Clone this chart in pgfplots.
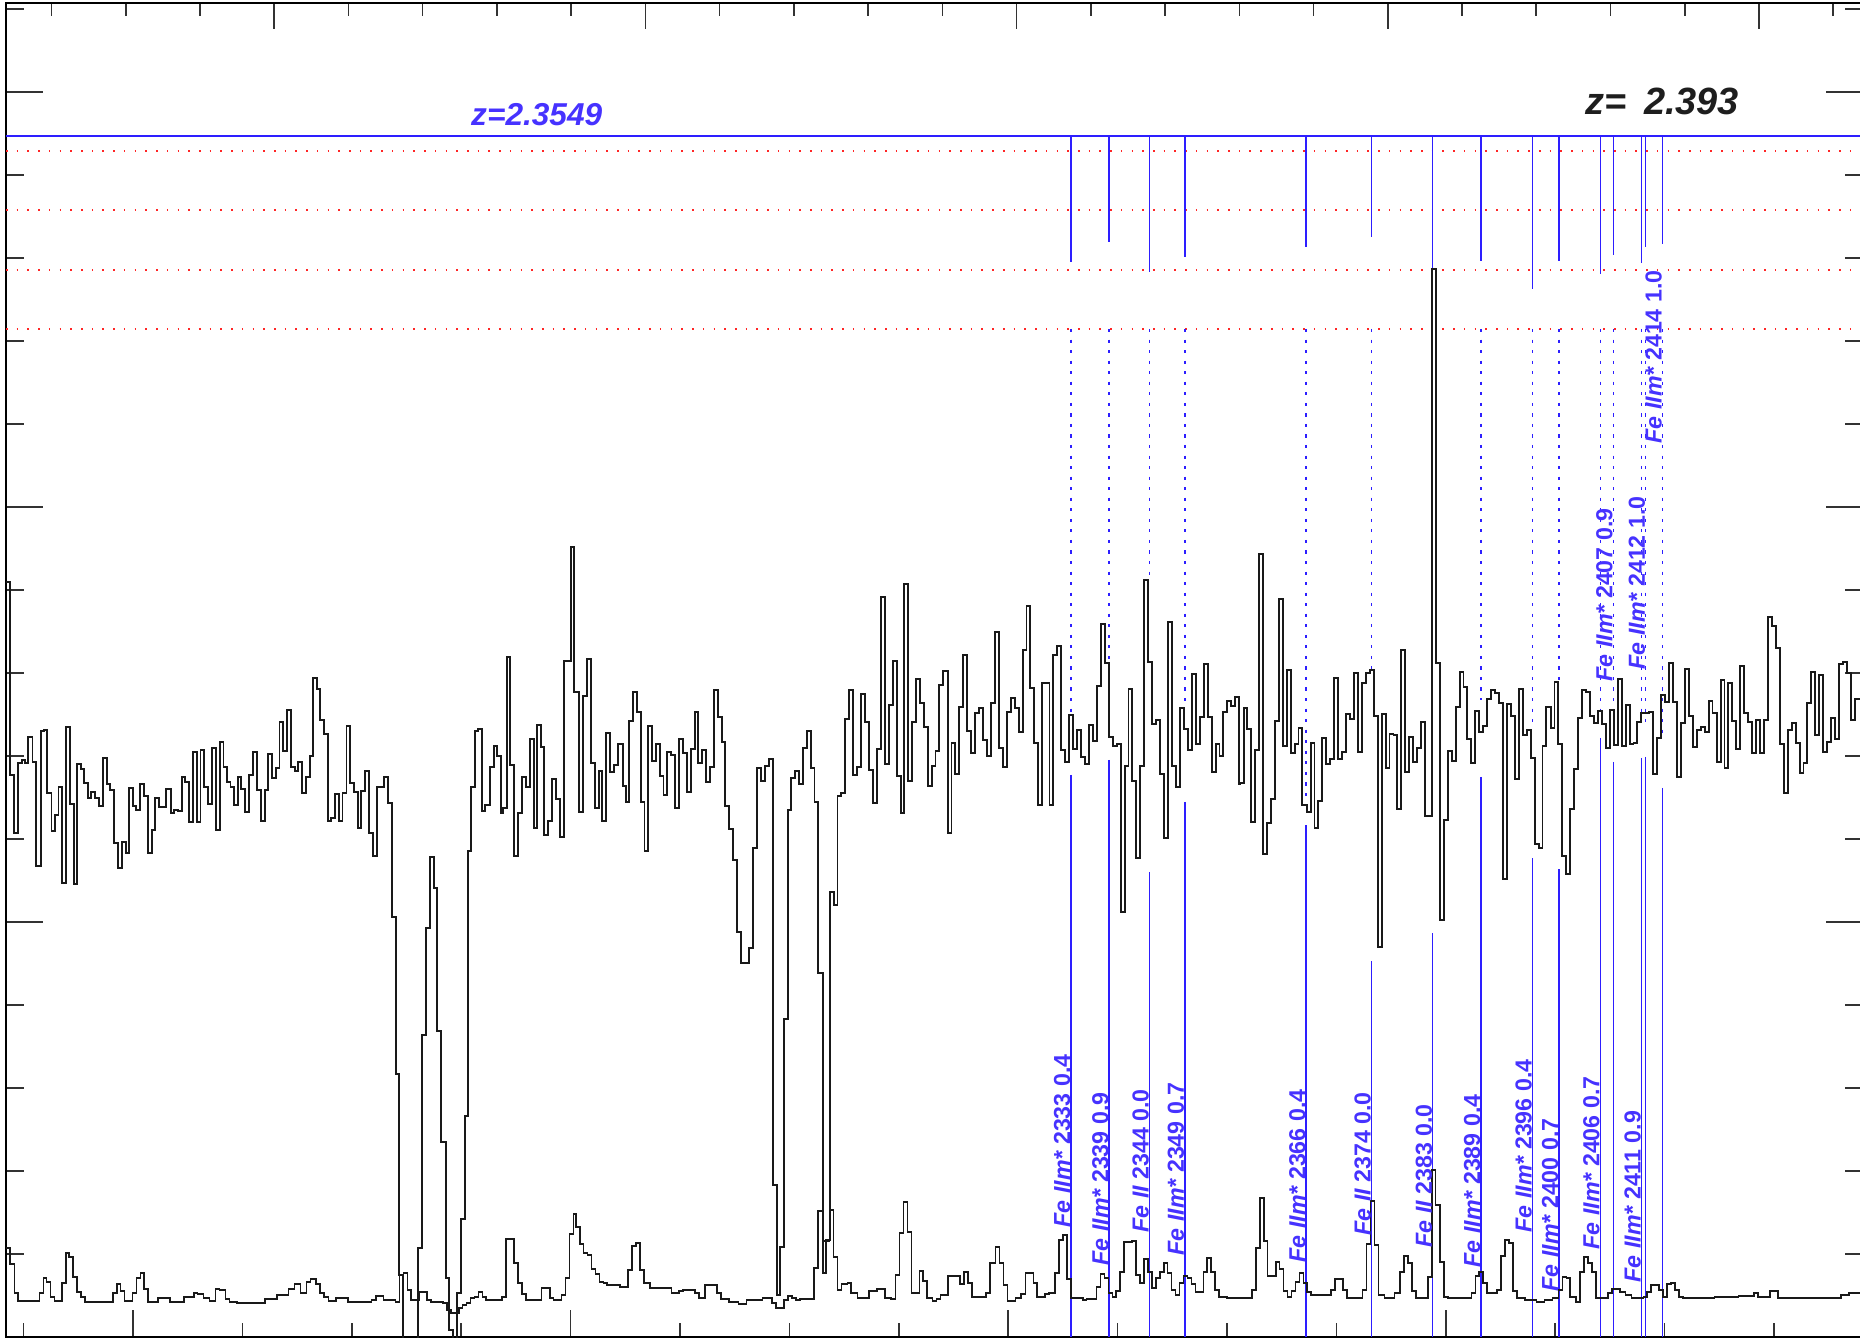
\documentclass[border=0pt]{standalone}
\usepackage{fontspec}
\setmainfont{Liberation Sans}
\usepackage{pgfplots}
\pgfplotsset{compat=1.18}
\definecolor{lineblue}{RGB}{45,30,255}
\definecolor{labelblue}{RGB}{70,50,255}
\definecolor{zblack}{RGB}{30,30,30}

\pgfplotsset{
  specframe/.style={
    scale only axis, width=18.57cm, height=13.34cm,
    at={(0.06cm,0.02cm)}, anchor=south west,
    axis line style={black, line width=0.5pt},
    tick style={black!80, line width=0.45pt},
    tick align=inside,
    ymin=0, ymax=1334,
    xticklabels={}, yticklabels={},
  },
}
\tikzset{
  idlabel/.style={rotate=90, anchor=base west, inner sep=0pt,
    text=labelblue, font=\fontsize{6.6}{8}\selectfont\bfseries},
}
% species in bold italic, wavelength and value in bold upright
\newcommand{\ion}[1]{{\itshape #1}}

\begin{document}
\begin{tikzpicture}

% upper axis: rest-frame wavelength of the z = 2.393 system
\begin{axis}[specframe,
  xmin=2163.87, xmax=2414.02,
  xtick={2200,2250,2300,2350,2400},
  minor xtick={2170,2180,2190,2210,2220,2230,2240,2260,2270,2280,2290,
               2310,2320,2330,2340,2360,2370,2380,2390,2410},
  xtick pos=right, ytick=\empty,
  major tick length=0.26cm, minor tick length=0.13cm]
\end{axis}

% left / right flux ticks
\begin{axis}[specframe,
  xmin=7342, xmax=8190.7, xtick=\empty,
  ytick={0,415,830,1245},
  minor ytick={83,166,249,332,498,581,664,747,913,996,1079,1162,1328},
  major tick length=0.37cm, minor tick length=0.18cm]
\end{axis}

% observed wavelength (Angstrom) against flux (counts)
\begin{axis}[specframe,
  xmin=7342, xmax=8190.7,
  xtick={7400,7600,7800,8000},
  minor xtick={7350,7450,7500,7550,7650,7700,7750,7850,7900,7950,8050,8100,8150},
  xtick pos=left, ytick=\empty,
  major tick length=0.27cm, minor tick length=0.14cm]

% reference levels
\addplot[lineblue, line width=0.45pt] coordinates {(7342,1201) (8190.7,1201)};
\addplot[red!85, line width=0.5pt, dash pattern=on 0.45pt off 2.6pt]
  coordinates {(7342,1186) (8190.7,1186)};
\addplot[red!85, line width=0.5pt, dash pattern=on 0.45pt off 2.6pt]
  coordinates {(7342,1127) (8190.7,1127)};
\addplot[red!85, line width=0.5pt, dash pattern=on 0.45pt off 2.6pt]
  coordinates {(7342,1067) (8190.7,1067)};
\addplot[red!85, line width=0.5pt, dash pattern=on 0.45pt off 2.6pt]
  coordinates {(7342,1008) (8190.7,1008)};

% Fe II line markers at z = 2.3549: hanging ticks
\addplot[lineblue, line width=0.42pt, unbounded coords=jump] coordinates {
 (7828.73,1201) (7828.73,1075) (7828.73,nan)
 (7846.20,1201) (7846.20,1095) (7846.20,nan)
 (7864.59,1201) (7864.59,1065) (7864.59,nan)
 (7880.73,1201) (7880.73,1080) (7880.73,nan)
 (7936.18,1201) (7936.18,1090) (7936.18,nan)
 (7966.08,1201) (7966.08,1100) (7966.08,nan)
 (7993.96,1201) (7993.96,1068) (7993.96,nan)
 (8016.06,1201) (8016.06,1076) (8016.06,nan)
 (8039.55,1201) (8039.55,1048) (8039.55,nan)
 (8051.69,1201) (8051.69,1076) (8051.69,nan)
 (8070.61,1201) (8070.61,1063) (8070.61,nan)
 (8076.55,1201) (8076.55,1082) (8076.55,nan)
 (8089.50,1201) (8089.50,1074) (8089.50,nan)
 (8091.35,1201) (8091.35,1090) (8091.35,nan)
 (8098.96,1201) (8098.96,1093)
};
% dotted guides above the spectrum
\addplot[lineblue, line width=0.42pt, dash pattern=on 0.9pt off 2.1pt, unbounded coords=jump] coordinates {
 (7828.73,1008) (7828.73,624) (7828.73,nan)
 (7846.20,1008) (7846.20,674) (7846.20,nan)
 (7864.59,1008) (7864.59,760) (7864.59,nan)
 (7880.73,1008) (7880.73,634) (7880.73,nan)
 (7936.18,1008) (7936.18,540) (7936.18,nan)
 (7966.08,1008) (7966.08,667) (7966.08,nan)
 (7993.96,1008) (7993.96,677) (7993.96,nan)
 (8016.06,1008) (8016.06,637) (8016.06,nan)
 (8039.55,1008) (8039.55,610) (8039.55,nan)
 (8051.69,1008) (8051.69,655) (8051.69,nan)
 (8070.61,1008) (8070.61,627) (8070.61,nan)
 (8076.55,1008) (8076.55,624) (8076.55,nan)
 (8089.50,1008) (8089.50,610) (8089.50,nan)
 (8091.35,1008) (8091.35,610) (8091.35,nan)
 (8098.96,1008) (8098.96,600)
};
% solid guides below the spectrum
\addplot[lineblue, line width=0.42pt, unbounded coords=jump] coordinates {
 (7828.73,562) (7828.73,0) (7828.73,nan)
 (7846.20,577) (7846.20,0) (7846.20,nan)
 (7864.59,465) (7864.59,0) (7864.59,nan)
 (7880.73,535) (7880.73,0) (7880.73,nan)
 (7936.18,512) (7936.18,0) (7936.18,nan)
 (7966.08,376) (7966.08,0) (7966.08,nan)
 (7993.96,404) (7993.96,0) (7993.96,nan)
 (8016.06,560) (8016.06,0) (8016.06,nan)
 (8039.55,479) (8039.55,0) (8039.55,nan)
 (8051.69,468) (8051.69,0) (8051.69,nan)
 (8070.61,599) (8070.61,0) (8070.61,nan)
 (8076.55,575) (8076.55,0) (8076.55,nan)
 (8089.50,579) (8089.50,0) (8089.50,nan)
 (8091.35,580) (8091.35,0) (8091.35,nan)
 (8098.96,549) (8098.96,0)
};

% flux
\addplot[const plot, black!90, line width=0.55pt] coordinates {
(7342.0,755) (7343.8,562) (7345.8,504) (7347.6,574) (7349.4,577) (7350.5,574) (7352.1,600) (7354.1,575)
(7355.9,471) (7357.9,606) (7359.5,607) (7360.8,544) (7362.8,506) (7364.2,522) (7366.0,550) (7367.6,454)
(7369.4,610) (7371.3,533) (7372.9,453) (7374.5,573) (7376.1,568) (7377.6,554) (7379.4,539) (7381.0,545)
(7382.6,539) (7384.4,531) (7386.3,579) (7388.1,553) (7389.5,547) (7391.5,494) (7393.1,469) (7394.9,495)
(7396.7,484) (7398.4,549) (7400.0,531) (7401.6,527) (7403.4,553) (7405.0,541) (7406.9,484) (7408.7,507)
(7410.3,539) (7411.9,530) (7415.3,548) (7417.2,524) (7418.8,527) (7420.6,526) (7422.4,560) (7423.8,555)
(7425.8,515) (7427.5,585) (7429.1,515) (7430.9,587) (7432.7,550) (7434.5,533) (7436.3,589) (7438.1,507)
(7439.6,595) (7441.4,570) (7442.8,555) (7444.6,550) (7446.2,532) (7447.9,560) (7449.5,548) (7451.3,525)
(7453.1,562) (7454.9,585) (7456.7,547) (7458.5,516) (7460.2,547) (7461.8,583) (7463.6,559) (7465.2,569)
(7467.0,615) (7468.7,586) (7470.5,627) (7472.1,570) (7473.9,566) (7475.5,575) (7477.3,544) (7479.0,560)
(7480.8,581) (7482.4,659) (7484.0,648) (7485.6,617) (7487.3,603) (7489.1,516) (7490.7,519) (7492.5,543)
(7494.1,516) (7495.8,544) (7497.6,611) (7499.4,554) (7501.0,545) (7502.8,509) (7504.4,546) (7506.2,566)
(7508.1,504) (7509.7,481) (7511.5,550) (7513.1,550) (7514.9,560) (7516.7,534) (7518.5,420) (7520.3,263)
(7521.8,62) (7523.6,-40) (7530.5,89) (7532.3,302) (7534.1,409) (7535.9,480) (7537.7,449) (7539.1,306)
(7540.9,195) (7543.1,59) (7544.6,7) (7546.4,-40) (7548.2,44) (7550.0,118) (7551.8,221) (7553.2,486)
(7554.7,550) (7556.5,606) (7557.9,608) (7559.7,526) (7560.8,532) (7563.4,570) (7565.2,591) (7566.2,581)
(7568.1,524) (7569.1,529) (7570.9,680) (7572.4,572) (7574.2,481) (7576.0,524) (7577.8,560) (7579.6,550)
(7581.4,598) (7583.2,509) (7584.7,612) (7586.5,590) (7587.9,502) (7589.7,516) (7591.5,558) (7593.4,538)
(7595.2,500) (7597.0,676) (7600.2,790) (7601.8,645) (7604.0,525) (7605.8,641) (7607.4,678) (7609.3,574)
(7611.1,529) (7612.9,566) (7614.3,516) (7616.1,604) (7617.9,565) (7619.7,572) (7621.5,593)
(7622.6,593) (7623.9,551) (7625.2,535) (7626.6,616) (7628.4,645) (7630.2,625) (7632.0,535) (7633.8,486)
(7635.3,611) (7637.1,576) (7638.9,593) (7640.7,561) (7642.5,542) (7644.3,585) (7646.1,582) (7647.9,529)
(7649.7,598) (7651.5,584) (7653.3,545) (7655.1,588) (7657.0,625) (7658.4,574) (7660.2,587) (7662.0,555)
(7663.8,570) (7665.6,647) (7667.4,620) (7669.2,595) (7670.7,531) (7672.5,508) (7674.3,477) (7676.1,405)
(7677.9,374) (7681.5,389) (7683.3,489) (7685.1,569) (7686.9,556) (7688.8,571) (7690.6,578) (7692.4,152)
(7694.2,42) (7695.8,90) (7697.6,318) (7699.4,527) (7700.7,559) (7702.5,566) (7704.3,553) (7706.1,589)
(7707.9,606) (7709.7,569) (7711.5,535) (7713.3,364) (7715.2,64) (7716.6,97) (7718.4,445) (7720.2,432)
(7722.0,541) (7723.8,544) (7725.6,618) (7727.4,647) (7729.2,562) (7731.1,570) (7732.9,643) (7734.7,615)
(7736.5,567) (7738.3,534) (7740.1,588) (7741.9,740) (7743.7,573) (7745.5,632) (7747.3,676) (7749.1,561)
(7750.9,524) (7752.4,753) (7754.2,556) (7756.0,615) (7757.8,658) (7759.6,634) (7761.4,610) (7763.2,551)
(7765.0,571) (7766.8,586) (7768.6,652) (7770.4,666) (7772.3,504) (7774.1,594) (7775.9,563) (7777.7,630)
(7779.5,682) (7781.3,606) (7783.1,584) (7784.9,624) (7786.7,629) (7788.5,597) (7790.3,581) (7792.1,634)
(7793.9,705) (7795.7,589) (7797.6,570) (7799.4,625) (7801.2,639) (7803.0,629) (7804.8,605) (7806.6,687)
(7808.4,731) (7809.9,649) (7811.7,594) (7813.5,532) (7815.3,654) (7818.9,532) (7820.7,682) (7822.5,691)
(7824.3,587) (7826.1,575) (7827.9,622) (7829.7,588) (7831.5,607) (7833.3,580) (7835.1,573) (7837.0,612)
(7838.8,596) (7840.6,651) (7842.4,713) (7844.2,674) (7846.0,600) (7847.8,591) (7849.6,593) (7851.4,425)
(7853.2,571) (7855.0,648) (7856.8,556) (7858.6,479) (7860.4,571) (7862.3,757) (7864.1,675) (7865.9,613)
(7867.7,617) (7869.5,563) (7871.3,499) (7873.1,715) (7874.9,571) (7876.7,550) (7878.5,629) (7880.3,608)
(7882.1,587) (7883.9,663) (7885.7,593) (7887.6,620) (7889.4,673) (7891.2,620) (7893.0,565) (7894.8,593)
(7896.6,581) (7898.4,625) (7900.2,636) (7902.0,631) (7903.8,640) (7905.6,553)
(7906.0,554) (7907.8,629) (7909.2,608) (7911.1,515) (7912.9,587) (7914.7,783) (7916.5,483) (7918.3,514)
(7920.1,538) (7921.9,616) (7923.7,738) (7925.5,591) (7927.3,667) (7929.1,584) (7930.9,593) (7932.7,609)
(7934.5,532) (7936.4,525) (7938.2,594) (7940.0,509) (7941.8,536) (7943.6,599) (7945.4,573) (7947.2,578)
(7949.0,659) (7950.8,578) (7952.6,585) (7954.4,623) (7956.2,618) (7958.0,664) (7959.8,585) (7961.7,654)
(7963.5,664) (7965.3,667) (7967.1,621) (7968.9,390) (7970.7,623) (7972.5,569) (7974.3,603) (7976.1,602)
(7977.9,528) (7979.7,687) (7981.5,565) (7983.3,600) (7985.1,575) (7987.0,589) (7988.8,615) (7990.6,521)
(7993.6,1068) (7995.4,674) (7997.3,417) (7999.1,517) (8000.9,586) (8002.7,576) (8004.5,630) (8006.3,665)
(8008.1,650) (8009.9,598) (8011.7,574) (8013.5,626) (8015.3,605) (8017.1,611) (8018.9,638) (8020.8,647)
(8022.6,644) (8024.4,634) (8026.2,458) (8028.0,633) (8029.8,621) (8031.6,558) (8033.4,648) (8035.2,602)
(8037.0,607) (8038.8,579) (8040.6,493) (8042.4,489) (8044.2,591) (8046.0,630) (8047.9,609) (8049.7,655)
(8051.5,593) (8053.3,481) (8055.1,463) (8056.9,528) (8058.7,568) (8060.5,619) (8062.3,647) (8064.1,645)
(8065.9,621) (8067.7,614) (8069.5,626) (8071.3,613) (8073.2,589) (8075.0,627) (8076.8,592) (8078.6,658)
(8080.4,591) (8082.2,632) (8084.0,593) (8085.8,594) (8087.6,615) (8089.4,624) (8091.2,624) (8093.0,625)
(8094.8,563) (8096.6,599) (8098.5,642) (8100.3,635) (8102.1,674) (8103.9,635) (8105.7,560) (8107.5,614)
(8109.3,668) (8111.1,621) (8112.9,590) (8114.7,607) (8116.5,610) (8118.3,605) (8120.1,636) (8121.9,624)
(8123.8,575) (8125.6,657) (8127.4,569) (8129.2,654) (8131.0,616) (8132.8,588) (8134.6,671) (8136.4,624)
(8138.2,615) (8140.0,584) (8141.8,617) (8143.6,584) (8145.4,617) (8147.3,720) (8149.1,711) (8150.9,689)
(8152.7,593) (8154.5,544) (8156.3,607) (8158.1,614) (8159.9,594) (8161.7,564) (8163.5,574) (8165.3,634)
(8167.1,665) (8168.9,602) (8170.7,662) (8172.6,585) (8174.4,595) (8176.2,619) (8178.0,598) (8179.8,673)
(8181.6,675) (8183.4,664) (8185.2,617) (8187.0,638) (8191.0,638)
};

% 1-sigma error
\addplot[const plot, black!90, line width=0.45pt] coordinates {
(7342.0,89) (7343.8,73) (7345.8,44) (7347.6,36) (7357.3,44) (7359.1,59) (7360.6,55) (7362.4,40)
(7364.2,36) (7367.6,54) (7369.3,84) (7370.9,80) (7372.7,60) (7374.5,45) (7376.3,40) (7378.1,35)
(7390.8,44) (7392.6,53) (7394.4,46) (7396.2,36) (7399.8,44) (7401.6,59) (7403.4,64) (7405.2,48)
(7407.0,35) (7411.5,39) (7417.0,35) (7423.3,40) (7427.8,44) (7429.6,43) (7432.3,39) (7435.0,36)
(7437.8,48) (7439.6,47) (7442.3,38) (7444.1,35) (7447.7,34) (7460.3,38) (7465.8,42) (7471.2,48)
(7473.9,53) (7476.6,44) (7479.3,55) (7481.1,58) (7483.8,53) (7485.6,44) (7487.4,40) (7489.3,36)
(7492.9,39) (7498.3,35) (7509.1,37) (7511.0,41) (7514.6,37) (7520.0,35) (7521.8,62) (7523.6,64)
(7525.4,47) (7527.2,37) (7530.8,45) (7534.4,37) (7536.2,35) (7541.7,34) (7543.5,27) (7545.3,24)
(7548.9,29) (7550.7,32) (7552.5,34) (7554.3,39) (7556.1,40) (7557.9,45) (7559.7,40) (7561.5,37)
(7568.8,40) (7570.6,98) (7574.2,74) (7576.0,54) (7577.8,43) (7579.6,37) (7586.8,49) (7590.5,39)
(7592.3,37) (7595.9,42) (7597.7,59) (7599.5,103) (7601.3,123) (7602.4,110) (7604.2,93) (7606.0,84)
(7607.8,82) (7609.6,68) (7611.4,63) (7613.2,55) (7615.0,54) (7616.8,52)
(7622.6,50) (7626.2,67) (7628.0,91) (7629.9,94) (7631.7,67) (7633.5,54) (7636.2,49) (7646.1,44)
(7649.7,46) (7651.5,47) (7657.0,44) (7658.8,39) (7661.5,52) (7666.9,44) (7668.7,38) (7672.3,35)
(7676.8,33) (7680.4,37) (7687.7,39) (7692.2,34) (7694.0,29) (7697.6,37) (7699.4,41) (7701.2,39)
(7703.0,37) (7704.8,38) (7711.2,69) (7713.0,126) (7715.2,96) (7718.4,127) (7720.2,80) (7722.0,47)
(7723.8,53) (7726.5,54) (7728.3,44) (7731.1,39) (7736.5,46) (7740.1,48) (7743.7,39) (7746.4,38)
(7748.6,62) (7750.4,104) (7752.2,135) (7754.0,105) (7755.8,44) (7759.4,66) (7761.2,56) (7763.0,39)
(7765.4,36) (7767.2,38) (7769.0,42) (7772.6,61) (7778.0,53) (7779.8,65) (7781.6,54) (7783.5,40)
(7789.8,44) (7791.6,74) (7794.3,90) (7796.1,74) (7797.9,52) (7799.7,36) (7803.3,39) (7806.0,43)
(7807.9,64) (7811.5,54) (7813.3,40) (7816.9,43) (7818.7,44) (7821.4,64) (7823.2,97) (7825.0,102)
(7826.8,58) (7828.6,39) (7834.1,37) (7835.9,38) (7840.4,50) (7842.2,63) (7844.0,59) (7845.8,44)
(7847.6,40) (7849.4,46) (7851.2,65) (7853.0,95) (7856.7,96) (7858.5,62) (7860.3,54) (7862.1,78)
(7863.9,65) (7865.7,49) (7867.5,59) (7869.3,65) (7871.1,74) (7872.9,64) (7874.7,47) (7876.5,42)
(7878.3,54) (7880.1,61) (7882.0,59) (7883.8,53) (7885.6,45) (7889.2,65) (7891.0,79) (7892.8,65)
(7894.6,47) (7896.4,40) (7900.0,39) (7903.6,39)
(7906.0,39) (7911.4,47) (7913.2,89) (7915.0,139) (7916.8,96) (7918.6,61) (7922.3,75) (7924.1,68)
(7925.9,46) (7927.7,40) (7929.5,46) (7931.3,55) (7933.1,64) (7934.9,54) (7936.7,45) (7938.5,42)
(7947.6,47) (7949.4,58) (7953.0,47) (7954.8,39) (7962.0,47) (7963.8,93) (7965.6,136) (7967.4,92)
(7969.2,42) (7972.0,39) (7976.5,44) (7979.2,65) (7981.0,81) (7982.8,74) (7984.6,46) (7986.4,39)
(7991.8,60) (7993.6,167) (7995.4,132) (7997.3,75) (7999.1,40) (8000.9,39) (8011.7,44) (8013.5,61)
(8015.3,65) (8017.1,54) (8018.9,44) (8023.5,47) (8025.3,81) (8027.1,97) (8028.9,94) (8030.7,46)
(8032.5,39) (8036.1,37) (8041.5,35) (8045.1,37) (8048.8,39) (8051.5,47) (8053.3,60) (8055.1,59)
(8056.9,40) (8059.6,35) (8061.4,65) (8063.2,80) (8065.0,74) (8066.8,65) (8068.6,39) (8074.1,44)
(8075.9,48) (8079.5,45) (8082.2,42) (8084.9,39) (8090.3,40) (8092.1,45) (8093.9,52) (8097.5,47)
(8099.4,40) (8101.2,53) (8103.0,54) (8104.8,47) (8106.6,40) (8108.4,39) (8122.9,40) (8133.7,41)
(8140.9,44) (8142.7,40) (8148.2,46) (8151.8,39) (8180.7,42) (8184.3,44) (8191.0,44)
};

% line identifications
\node[idlabel] at (axis cs:7828.3,109) {\ion{Fe IIm*} 2333 0.4};
\node[idlabel] at (axis cs:7845.8,71)  {\ion{Fe IIm*} 2339 0.9};
\node[idlabel] at (axis cs:7864.2,104) {\ion{Fe II} 2344 0.0};
\node[idlabel] at (axis cs:7880.3,81)  {\ion{Fe IIm*} 2349 0.7};
\node[idlabel] at (axis cs:7935.8,74)  {\ion{Fe IIm*} 2366 0.4};
\node[idlabel] at (axis cs:7965.7,101) {\ion{Fe II} 2374 0.0};
\node[idlabel] at (axis cs:7993.6,89)  {\ion{Fe II} 2383 0.0};
\node[idlabel] at (axis cs:8015.7,69)  {\ion{Fe IIm*} 2389 0.4};
\node[idlabel] at (axis cs:8039.2,104) {\ion{Fe IIm*} 2396 0.4};
\node[idlabel] at (axis cs:8051.3,45)  {\ion{Fe IIm*} 2400 0.7};
\node[idlabel] at (axis cs:8070.2,87)  {\ion{Fe IIm*} 2406 0.7};
\node[idlabel] at (axis cs:8076.2,655) {\ion{Fe IIm*} 2407 0.9};
\node[idlabel] at (axis cs:8089.1,54)  {\ion{Fe IIm*} 2411 0.9};
\node[idlabel] at (axis cs:8091.0,667) {\ion{Fe IIm*} 2412 1.0};
\node[idlabel] at (axis cs:8098.6,893) {\ion{Fe IIm*} 2414 1.0};

% redshifts
\node[anchor=base west, inner sep=0pt, text=labelblue,
  font=\fontsize{9}{11}\selectfont\bfseries\itshape]
  at (axis cs:7554.3,1211) {z=2.3549};
\node[anchor=base west, inner sep=0pt, text=zblack,
  font=\fontsize{10.8}{12}\selectfont\bfseries\itshape]
  at (axis cs:8063.7,1222) {z=\hspace{0.45em}2.393};
\end{axis}

\pgfresetboundingbox
\useasboundingbox (0,0) rectangle (18.6cm,13.39cm);
\end{tikzpicture}
\end{document}
